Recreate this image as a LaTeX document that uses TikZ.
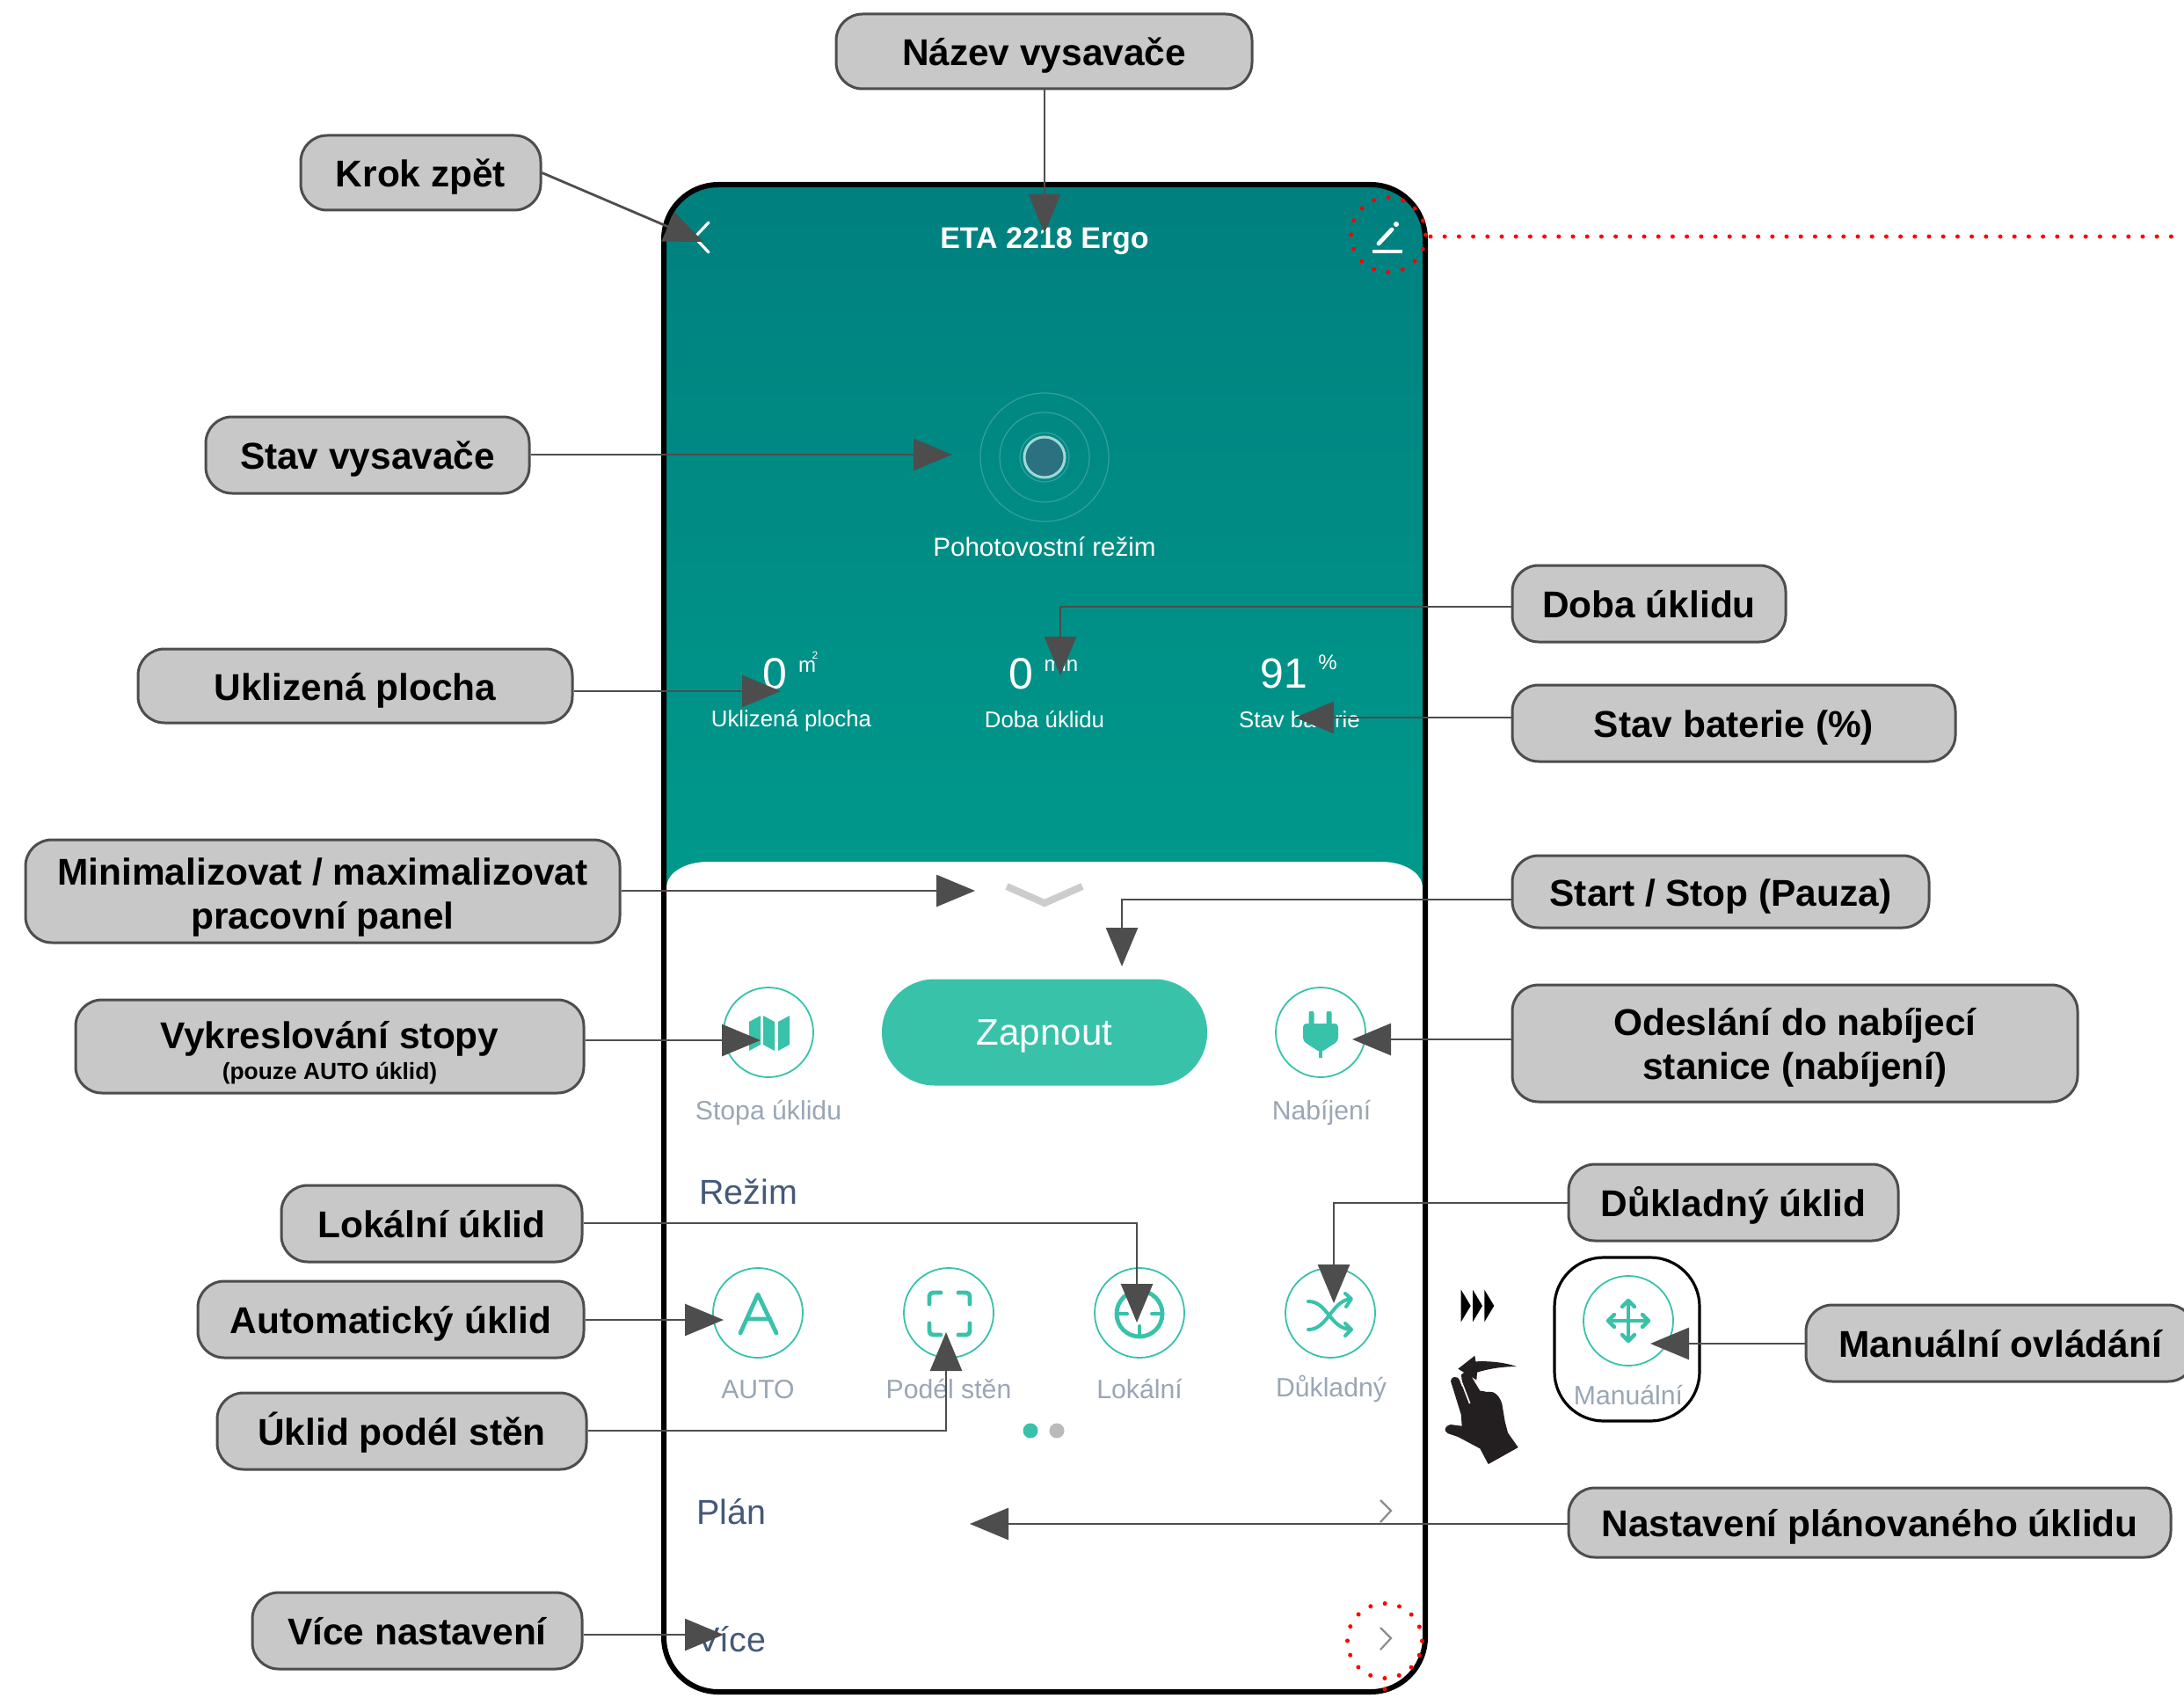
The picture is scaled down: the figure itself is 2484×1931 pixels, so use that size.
\documentclass[tikz,border=0pt]{standalone}
\usepackage{fontspec}
\setmainfont{Liberation Sans}
\usetikzlibrary{arrows.meta,calc}
\definecolor{boxfill}{HTML}{C8C8C8}
\definecolor{boxline}{HTML}{4D4D4D}
\definecolor{mint}{HTML}{39C2AA}
\definecolor{uigray}{HTML}{9AA6B5}
\definecolor{uiblue}{HTML}{43597A}
\definecolor{tealtop}{HTML}{00807F}
\definecolor{tealbot}{HTML}{009C8D}
\definecolor{handblack}{HTML}{231F20}
\definecolor{ringline}{HTML}{35A09C}
\definecolor{corefill}{HTML}{2B7180}
\definecolor{corering}{HTML}{A0D8D4}
\tikzset{
  callout/.style={draw=boxline,fill=boxfill,line width=1.5pt,rounded corners=15pt,inner sep=0pt,align=center,
    font=\bfseries\fontsize{21.2}{25}\selectfont,text=black},
  conn/.style={draw=boxline,line width=1.4pt,-{Triangle[length=22pt,width=18pt,fill=boxline]}},
  reddot/.style={draw=red,line width=2.5pt,line cap=round,dash pattern=on 0pt off 8.35pt},
  redline/.style={draw=red,line width=2.5pt,line cap=round,dash pattern=on 0pt off 8.1pt},
  uiring/.style={circle,draw=mint,line width=0.9pt,minimum size=51pt,inner sep=0pt},
  glyph/.style={draw=mint,line width=2.4pt,line cap=round,line join=round},
  uilabel/.style={text=uigray,font=\fontsize{15.1}{17}\selectfont,inner sep=0pt},
  uihead/.style={text=uiblue,font=\fontsize{19.7}{22}\selectfont,inner sep=0pt,anchor=west},
  whitetxt/.style={text=white,inner sep=0pt},
  chev/.style={draw=black!45,line width=1.1pt},
  pulse/.style={draw=ringline,line width=0.6pt},
}
\newcommand\callout[6]{\node[callout,minimum width={(#4-#2)*0.5pt},minimum height={(#5-#3)*0.5pt}] (#1) at ({(#2+#4)/2},{(#3+#5)/2}) {#6};}
\newcommand\oneline{\rule[-5pt]{0pt}{26pt}}
\begin{document}
\begin{tikzpicture}[x=0.5pt,y=-0.5pt]
\clip (0,0) rectangle (2484,1931);
% --- phone screen
\shade[top color=tealtop,bottom color=tealbot,rounded corners=31pt] (755,210) rectangle (1621,1100);
\fill[white] (758,1010) .. controls (758,992) and (780,980) .. (805,980) -- (1571,980) .. controls (1596,980) and (1618,992) .. (1618,1010)
  [rounded corners=30pt] -- (1618,1921) -- (758,1921) [sharp corners] -- cycle;
% header
\draw[white,line width=1.6pt,line cap=round] (806,253) -- (790,270) -- (806,287);
\node[whitetxt,font=\bfseries\fontsize{17}{20}\selectfont] (title) at (1188,274) {ETA 2218 Ergo};
\draw[white,line width=2.3pt] (1561,286) -- (1595,286);
\draw[white,line width=2.4pt,line cap=round] (1568,277) -- (1583,261);
\fill[white] (1588,255) circle [radius=3];
% pulse
\draw[pulse] (1188,520) circle [radius=73];
\draw[pulse] (1188,520) circle [radius=51];
\draw[pulse] (1188,520) circle [radius=28];
\draw[draw=corering,fill=corefill,line width=1.5pt] (1188,520) circle [radius=23];
\node[whitetxt,font=\fontsize{14.8}{17}\selectfont] (state) at (1188,622) {Pohotovostní režim};
% stats
\node[whitetxt,font=\fontsize{25}{28}\selectfont] (n1) at (881,766) {0};
\node[whitetxt,font=\fontsize{12}{14}\selectfont] (u1) at (918,758) {m};
\node[whitetxt,font=\fontsize{6}{7}\selectfont] (u1b) at (927,745) {2};
\node[whitetxt,font=\fontsize{25}{28}\selectfont] (n2) at (1161,766) {0};
\node[whitetxt,font=\fontsize{12}{14}\selectfont] (u2) at (1207,755) {min};
\node[whitetxt,font=\fontsize{24}{28}\selectfont] (n3) at (1460,766) {91};
\node[whitetxt,font=\fontsize{12}{14}\selectfont] (u3) at (1510,753) {\%};
\node[whitetxt,font=\fontsize{12.9}{16}\selectfont] (l1) at (900,820) {Uklizená plocha};
\node[whitetxt,font=\fontsize{12.9}{16}\selectfont] (l2) at (1188,818) {Doba úklidu};
\node[whitetxt,font=\fontsize{12.9}{16}\selectfont] (l3) at (1478,818) {Stav baterie};
% panel chevron
\draw[draw=black!20,line width=4pt] (1145,1008) -- (1188,1027) -- (1231,1008);
% top row
\node[uiring] (track) at (874,1174) {};
\fill[mint] (852,1162) -- (865,1155) -- (865,1188) -- (852,1195) -- cycle
            (868,1155) -- (881,1162) -- (881,1195) -- (868,1188) -- cycle
            (885,1162) -- (898,1155) -- (898,1188) -- (885,1195) -- cycle;
\node[uilabel] (trackl) at (874,1266) {Stopa úklidu};
\node[fill=mint,rounded corners=30pt,minimum width=185pt,minimum height=60.5pt,inner sep=0pt,text=white,text depth=0pt,font=\fontsize{21}{24}\selectfont] (start) at (1188,1174) {Zapnout};
\node[uiring] (charge) at (1502,1174) {};
\fill[mint,rounded corners=2pt] (1482,1164) -- (1522,1164) -- (1522,1184) -- (1502,1197) -- (1482,1184) -- cycle;
\fill[mint] (1500,1190) rectangle (1504,1203);
\fill[mint,rounded corners=1pt] (1488.5,1150) rectangle (1494.5,1166) (1508.5,1150) rectangle (1514.5,1166);
\node[uilabel] (chargel) at (1503,1266) {Nabíjení};
\node[uihead] (mode) at (795,1355) {Režim};
% mode row
\node[uiring] (auto) at (862,1493) {};
\draw[glyph] (842,1516) -- (862,1472) -- (883,1516) (849,1500) -- (876,1500);
\node[uilabel] (autol) at (862,1580) {AUTO};
\node[uiring] (wall) at (1079,1493) {};
\draw[glyph,rounded corners=2pt] (1057,1483) -- (1057,1470) -- (1070,1470) (1090,1470) -- (1103,1470) -- (1103,1483)
  (1103,1505) -- (1103,1518) -- (1090,1518) (1070,1518) -- (1057,1518) -- (1057,1505);
\node[uilabel] (walll) at (1079,1580) {Podél stěn};
\node[uiring] (spot) at (1296,1493) {};
\draw[glyph] (1296,1494) circle [radius=26];
\draw[glyph,line width=2pt] (1270,1494) -- (1282,1494) (1310,1494) -- (1322,1494) (1296,1468) -- (1296,1480) (1296,1508) -- (1296,1520);
\node[uilabel] (spotl) at (1296,1580) {Lokální};
\node[uiring] (deep) at (1513,1493) {};
\draw[glyph,line width=2pt] (1488,1480) .. controls (1510,1480) and (1512,1510) .. (1536,1512)
  (1488,1512) .. controls (1510,1512) and (1514,1480) .. (1536,1477)
  (1530,1471) -- (1537,1477) -- (1531,1486) (1530,1505) -- (1537,1512) -- (1530,1519);
\node[uilabel] (deepl) at (1514,1579) {Důkladný};
% pager
\fill[mint] (1172,1627) circle [radius=8.5];
\fill[black!27] (1202,1627) circle [radius=8.5];
% list rows
\node[uihead] (plan) at (792,1719) {Plán};
\node[uihead] (more) at (792,1864) {Více};
\draw[chev] (1570,1706) -- (1582,1718) -- (1570,1731);
\draw[chev] (1570,1851) -- (1582,1863) -- (1570,1876);
% phone border
\draw[black,line width=3pt,rounded corners=31pt] (755,210) rectangle (1621,1924);
% side: manual button
\draw[black,line width=1.6pt,rounded corners=28pt] (1768,1430) rectangle (1933,1616);
\node[uiring] (manual) at (1852,1502) {};
\draw[draw=mint,line width=2pt] (1852,1481) -- (1852,1523) (1831,1502) -- (1873,1502);
\draw[draw=mint,line width=2.2pt,line cap=round,line join=round] (1845,1486) -- (1852,1479) -- (1859,1486)
  (1845,1518) -- (1852,1525) -- (1859,1518) (1836,1495) -- (1829,1502) -- (1836,1509) (1868,1495) -- (1875,1502) -- (1868,1509);
\node[uilabel] (manuall) at (1852,1587) {Manuální};
% triple arrows
\fill[black] (1661.7,1466.7) -- (1672.7,1485) -- (1661.7,1503.3) -- cycle
  (1675,1466.7) -- (1686,1485) -- (1675,1503.3) -- cycle
  (1688.3,1466.7) -- (1699.3,1485) -- (1688.3,1503.3) -- cycle;
% hand gesture
\begin{scope}[shift={(1600,1400)},x=0.1667pt,y=-0.1667pt]
\fill[handblack] (175,470) -- (232,425) -- (235,445) .. controls (290,442) and (340,450) .. (375,462)
  .. controls (320,462) and (270,472) .. (240,482) -- (238,508) -- cycle;
\fill[handblack] (150,512) .. controls (150,498) and (170,490) .. (180,508) -- (190,535)
  -- (186,490) .. controls (195,478) and (212,480) .. (220,495) -- (250,545)
  .. controls (262,543) and (270,552) .. (280,548) .. controls (300,545) and (318,565) .. (325,590)
  -- (335,650) -- (345,688) -- (380,738) -- (278,795) -- (250,742)
  -- (175,702) -- (140,690) .. controls (125,682) and (128,665) .. (150,660) -- (188,665)
  -- (185,625) -- cycle;
\draw[white,line width=0.8pt] (183,505) -- (215,588);
\end{scope}
% --- callouts
\callout{name}{951}{16}{1424}{101}{\oneline Název vysavače}
\callout{back}{342}{154}{615}{239}{\oneline Krok zpět}
\callout{status}{234}{474}{602}{561}{\oneline Stav vysavače}
\callout{area}{157}{738}{651}{822}{\oneline Uklizená plocha}
\callout{minmax}{29}{955}{705}{1072}{\rule{0pt}{22pt}Minimalizovat / maximalizovat\\pracovní panel}
\callout{trace}{86}{1137}{664}{1243}{\rule{0pt}{23pt}Vykreslování stopy\\[-7.5pt]{\fontsize{13.2}{15}\selectfont (pouze AUTO úklid)}}
\callout{local}{320}{1348}{662}{1435}{\oneline Lokální úklid}
\callout{autoc}{225}{1457}{664}{1544}{\oneline Automatický úklid}
\callout{walls}{247}{1584}{667}{1671}{\oneline Úklid podél stěn}
\callout{moreset}{287}{1811}{662}{1898}{\oneline Více nastavení}
\callout{time}{1720}{643}{2031}{730}{\oneline Doba úklidu}
\callout{batt}{1720}{779}{2224}{866}{\oneline Stav baterie (\%)}
\callout{startc}{1720}{973}{2194}{1055}{\oneline Start / Stop (Pauza)}
\callout{dock}{1720}{1120}{2363}{1253}{\rule{0pt}{20pt}Odeslání do nabíjecí\\stanice (nabíjení)}
\callout{deepc}{1784}{1324}{2159}{1411}{\oneline Důkladný úklid}
\callout{manc}{2054}{1484}{2496}{1571}{\oneline Manuální ovládání}
\callout{sched}{1784}{1692}{2469}{1771}{\oneline Nastavení plánovaného úklidu}
% --- connector ends
\coordinate (tName) at (1188,265);
\coordinate (tBack) at (800,275);
\coordinate (tStatus) at (1083,517);
\coordinate (tArea) at (888,786);
\coordinate (tTime) at (1206,768);
\coordinate (yTime) at (1206,690);
\coordinate (tBatt) at (1473,816);
\coordinate (tMin) at (1109,1013);
\coordinate (tStart) at (1276,1099);
\coordinate (yStart) at (1276,1023);
\coordinate (tTrace) at (865,1183);
\coordinate (tDock) at (1538,1182);
\coordinate (tLocal) at (1293,1504);
\coordinate (yLocal) at (1293,1391);
\coordinate (tDeep) at (1517,1482);
\coordinate (yDeep) at (1517,1368);
\coordinate (tAuto) at (823,1501);
\coordinate (tWall) at (1076,1515);
\coordinate (yWall) at (1076,1627);
\coordinate (tMore) at (823,1859);
\coordinate (tPlan) at (1103,1733);
\coordinate (tMan) at (1877,1528);
% --- connectors
\draw[conn] (name.south -| tName) -- (tName);
\draw[conn] (back.east) -- (tBack);
\draw[conn] (status.east |- tStatus) -- (tStatus);
\draw[conn] (area.east |- tArea) -- (tArea);
\draw[conn] (time.west |- yTime) -- (yTime) -- (tTime);
\draw[conn] (batt.west |- tBatt) -- (tBatt);
\draw[conn] (minmax.east |- tMin) -- (tMin);
\draw[conn] (startc.west |- yStart) -- (yStart) -- (tStart);
\draw[conn] (trace.east |- tTrace) -- (tTrace);
\draw[conn] (dock.west |- tDock) -- (tDock);
\draw[conn] (local.east |- yLocal) -- (yLocal) -- (tLocal);
\draw[conn] (deepc.west |- yDeep) -- (yDeep) -- (tDeep);
\draw[conn] (autoc.east |- tAuto) -- (tAuto);
\draw[conn] (walls.east |- yWall) -- (yWall) -- (tWall);
\draw[conn] (moreset.east |- tMore) -- (tMore);
\draw[conn] (sched.west |- tPlan) -- (tPlan);
\draw[conn] (manc.west |- tMan) -- (tMan);
% --- red dotted marks
\draw[reddot] (1579,267) circle [radius=42.5];
\draw[redline] (1627,269) -- (2484,269);
\draw[reddot] (1575,1866) circle [radius=42.5];
\draw[redline] (1575,1921) -- (1575,1931);
\end{tikzpicture}
\end{document}
